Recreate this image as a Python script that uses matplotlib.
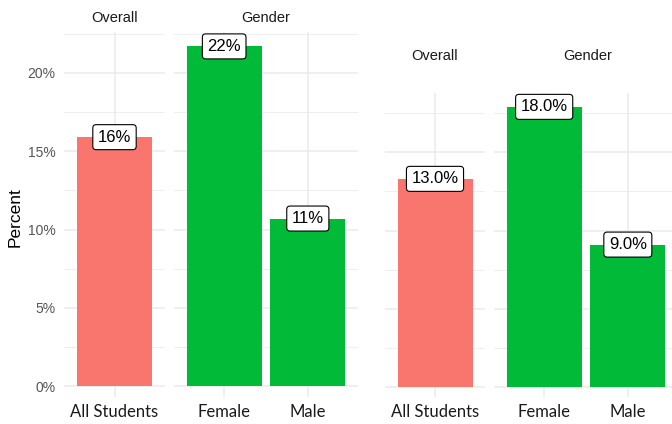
import matplotlib
matplotlib.use("Agg")
import matplotlib.pyplot as plt
import numpy as np

# ---- data ----
overall_cats = ["All Students"]
gender_cats = ["Female", "Male"]
left_overall = [15.9]
left_gender = [21.7, 10.7]
left_overall_labels = ["16%"]
left_gender_labels = ["22%", "11%"]
right_overall = [13.3]
right_gender = [17.9, 9.1]
right_overall_labels = ["13.0%"]
right_gender_labels = ["18.0%", "9.0%"]
y_ticks = [0, 5, 10, 15, 20]
y_tick_labels = ["0%", "5%", "10%", "15%", "20%"]
strip_labels = ["Overall", "Gender"]

C_OVERALL = "#F8766D"
C_GENDER = "#00BA38"
GRID = "#EBEBEB"

W, H = 672, 424
fig = plt.figure(figsize=(W / 100, H / 100), dpi=100)


def add_ax(x0, x1, y0, y1):
    return fig.add_axes([x0 / W, (H - y1) / H, (x1 - x0) / W, (y1 - y0) / H])


def style(ax, cats, vals, labels, color, ylim, xlim, show_y=False):
    x = np.arange(len(cats))
    for s in ax.spines.values():
        s.set_visible(False)
    ax.bar(x, vals, width=0.9, color=color, zorder=2)
    ax.set_yticks(y_ticks)
    ax.set_yticks([2.5, 7.5, 12.5, 17.5, 22.5], minor=True)
    ax.set_xticks(x)
    ax.set_xticklabels(cats, fontfamily="Lato", fontsize=12, color="#1a1a1a")
    ax.tick_params(axis="x", length=0, pad=5)
    ax.tick_params(axis="y", which="both", length=0, pad=6)
    if show_y:
        ax.set_yticklabels(y_tick_labels, fontfamily="Liberation Sans",
                           fontsize=10, color="#555555")
    else:
        ax.set_yticklabels([])
    ax.grid(True, which="major", color=GRID, lw=1.1, zorder=0)
    ax.grid(True, which="minor", axis="y", color=GRID, lw=0.6, zorder=0)
    ax.set_axisbelow(True)
    for xi, v, lab in zip(x, vals, labels):
        ax.text(xi, v, lab, ha="center", va="center", fontsize=12,
                fontfamily="Liberation Sans", color="black", zorder=3,
                bbox=dict(boxstyle="round,pad=0.3,rounding_size=0.2",
                          fc="white", ec="black", lw=0.8))
    ax.set_xlim(*xlim)
    ax.set_ylim(*ylim)


# left chart
s = 15.65
ly = (-(397 - 386) / s, (386 - 32) / s)
a1 = add_ax(64, 165, 32, 397)
style(a1, overall_cats, left_overall, left_overall_labels, C_OVERALL, ly, (-0.6, 0.6), show_y=True)
a2 = add_ax(174, 358, 32, 397)
style(a2, gender_cats, left_gender, left_gender_labels, C_GENDER, ly, (-0.6, 1.6))

# right chart
ry = (-(397 - 387) / s, (387 - 93) / s)
a3 = add_ax(385, 485, 93, 397)
style(a3, overall_cats, right_overall, right_overall_labels, C_OVERALL, ry, (-0.6, 0.6))
a4 = add_ax(494, 678, 93, 397)
style(a4, gender_cats, right_gender, right_gender_labels, C_GENDER, ry, (-0.6, 1.6))

strip_font = dict(fontfamily=["Liberation Sans Narrow", "Liberation Sans"], fontsize=10.5,
                  color="#1a1a1a", ha="center", va="center")
fig.text(114.5 / W, 1 - 17.5 / H, strip_labels[0], **strip_font)
fig.text(266 / W, 1 - 17.5 / H, strip_labels[1], **strip_font)
fig.text(435 / W, 1 - 55.5 / H, strip_labels[0], **strip_font)
fig.text(588 / W, 1 - 55.5 / H, strip_labels[1], **strip_font)

fig.text(15 / W, 1 - 217 / H, "Percent", rotation=90, ha="center", va="center",
         fontsize=12.5, fontfamily="Liberation Sans", color="black")

fig.savefig("out.png", dpi=100)
